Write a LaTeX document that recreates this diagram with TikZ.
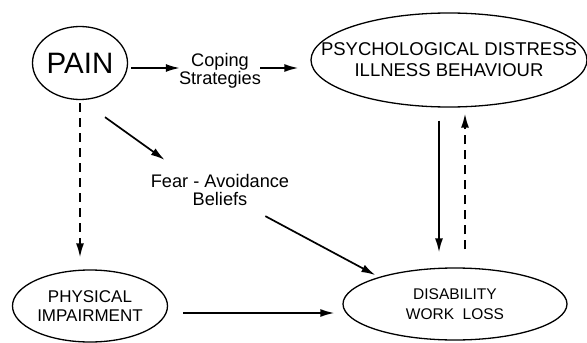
\documentclass[tikz,border=0pt]{standalone}
\usepackage{fontspec}
\setmainfont{Liberation Sans}
\usepackage{tikz}
\usetikzlibrary{shapes.geometric, arrows.meta}

\begin{document}
\begin{tikzpicture}[x=1pt, y=-1pt,
		oval/.style={draw, ellipse, line width=1.3pt, inner sep=-40pt, align=center},
		lbl/.style={align=center, inner sep=2pt, font=\fontsize{18.2}{18.5}\selectfont},
		arr/.style={line width=1.7pt, -{Latex[length=14pt, width=8pt]}},
		darr/.style={arr, dash pattern=on 9pt off 6pt}]
		\useasboundingbox(0, 0)rectangle(587, 343);
		\node[oval, minimum width=95pt, minimum height=73pt, font=\fontsize{29.5}{30}\selectfont](pain)at(80, 63){PAIN};
		\node[oval, minimum width=276pt, minimum height=94pt, font=\fontsize{18.5}{21}\selectfont](psych)at(449, 60){PSYCHOLOGICAL DISTRESS\\ILLNESS BEHAVIOUR};
		\node[oval, minimum width=155pt, minimum height=72pt, font=\fontsize{17}{19}\selectfont](phys)at(90, 306){PHYSICAL\\IMPAIRMENT};
		\node[oval, minimum width=224pt, minimum height=72pt, font=\fontsize{15.5}{20}\selectfont](disab)at(455, 304){DISABILITY\\WORK\ \ LOSS};
		\node[lbl](coping)at(220, 71){Coping\\Strategies};
		\node[lbl](fear)at(220, 190){Fear - Avoidance\\Beliefs};
		\draw[arr]([xshift=3pt, yshift=-5pt]pain.east)--([xshift=3pt, yshift=3pt]coping.west);
		\draw[arr]([xshift=-3pt, yshift=3pt]coping.east)--([xshift=-12pt, yshift=-8pt]psych.west);
		\draw[darr]([yshift=-3pt]pain.south)--([xshift=-10pt, yshift=12pt]phys.north);
		\draw[arr]([xshift=25pt, yshift=-17pt]pain.south)--([xshift=16pt, yshift=12pt]fear.north west);
		\draw[arr]([xshift=-26pt, yshift=-8pt]fear.south east)--([yshift=3pt]disab.north west);
		\draw[arr]([xshift=15pt, yshift=-7pt]phys.east)--([xshift=-8pt, yshift=-9pt]disab.west);
		\draw[arr]([xshift=-10pt, yshift=-13pt]psych.south)--([xshift=-16pt, yshift=15pt]disab.north);
		\draw[darr]([xshift=10pt, yshift=18pt]disab.north)--([xshift=16pt, yshift=-6pt]psych.south);
	\end{tikzpicture}
\end{document}
